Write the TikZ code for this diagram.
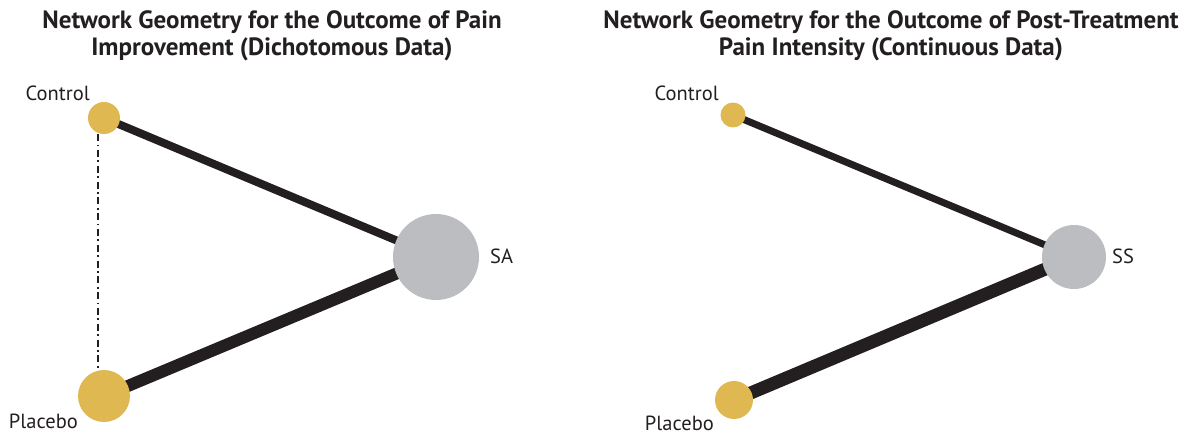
\documentclass[tikz,border=0pt]{standalone}
\usepackage{fontspec}
\setmainfont{PT Sans}
\usetikzlibrary{backgrounds}
\definecolor{gold}{HTML}{E0B852}
\definecolor{greynode}{HTML}{BCBDC0}
\definecolor{edgedark}{HTML}{231F20}
\tikzset{
  treat/.style={circle,fill=gold,inner sep=0pt,minimum size=#1},
  active/.style={circle,fill=greynode,inner sep=0pt,minimum size=#1},
  lbl/.style={font=\fontsize{20.5}{24}\selectfont,text=edgedark,inner sep=0pt},
  ttl/.style={font=\bfseries\fontsize{25}{27}\selectfont,text=edgedark,align=center,inner sep=0pt},
  edge/.style={draw=edgedark,line width=#1},
  indirect/.style={draw=edgedark,line width=2.6pt,dash pattern=on 7pt off 3.5pt on 1.8pt off 3.5pt}
}
\begin{document}
\begin{tikzpicture}[x=1pt,y=-1pt]
\useasboundingbox (0,0) rectangle (1187,435);
% titles
\node[ttl,anchor=north] (t1) at (272,10) {Network Geometry for the Outcome of Pain\\Improvement (Dichotomous Data)};
\node[ttl,anchor=north] (t2) at (891,10) {Network Geometry for the Outcome of Post-Treatment\\Pain Intensity (Continuous Data)};
% left network
\node[treat=32pt] (c1) at (104,118) {};
\node[treat=52pt] (p1) at (104,396) {};
\node[active=86pt] (s1) at (436,257) {};
\node[lbl,anchor=base east] (lc1) at (90,101) {Control};
\node[lbl,anchor=base east] (lp1) at (78,429) {Placebo};
\node[lbl,anchor=base west] (ls1) at (490,264) {SA};
% right network
\node[treat=25pt] (c2) at (733,115) {};
\node[treat=38pt] (p2) at (734,400) {};
\node[active=64pt] (s2) at (1074,257) {};
\node[lbl,anchor=base east] (lc2) at (719,101) {Control};
\node[lbl,anchor=base east] (lp2) at (714,431) {Placebo};
\node[lbl,anchor=base west] (ls2) at (1112,264) {SS};
\begin{pgfonlayer}{background}
\draw[edge=8pt] (c1.center) -- (s1.center);
\draw[edge=12pt] (p1.center) -- (s1.center);
\draw[indirect] ([xshift=-6pt]c1.south) -- ([xshift=-6pt]p1.north);
\draw[edge=7pt] (c2.center) -- (s2.center);
\draw[edge=13pt] (p2.center) -- (s2.center);
\end{pgfonlayer}
\end{tikzpicture}
\end{document}
